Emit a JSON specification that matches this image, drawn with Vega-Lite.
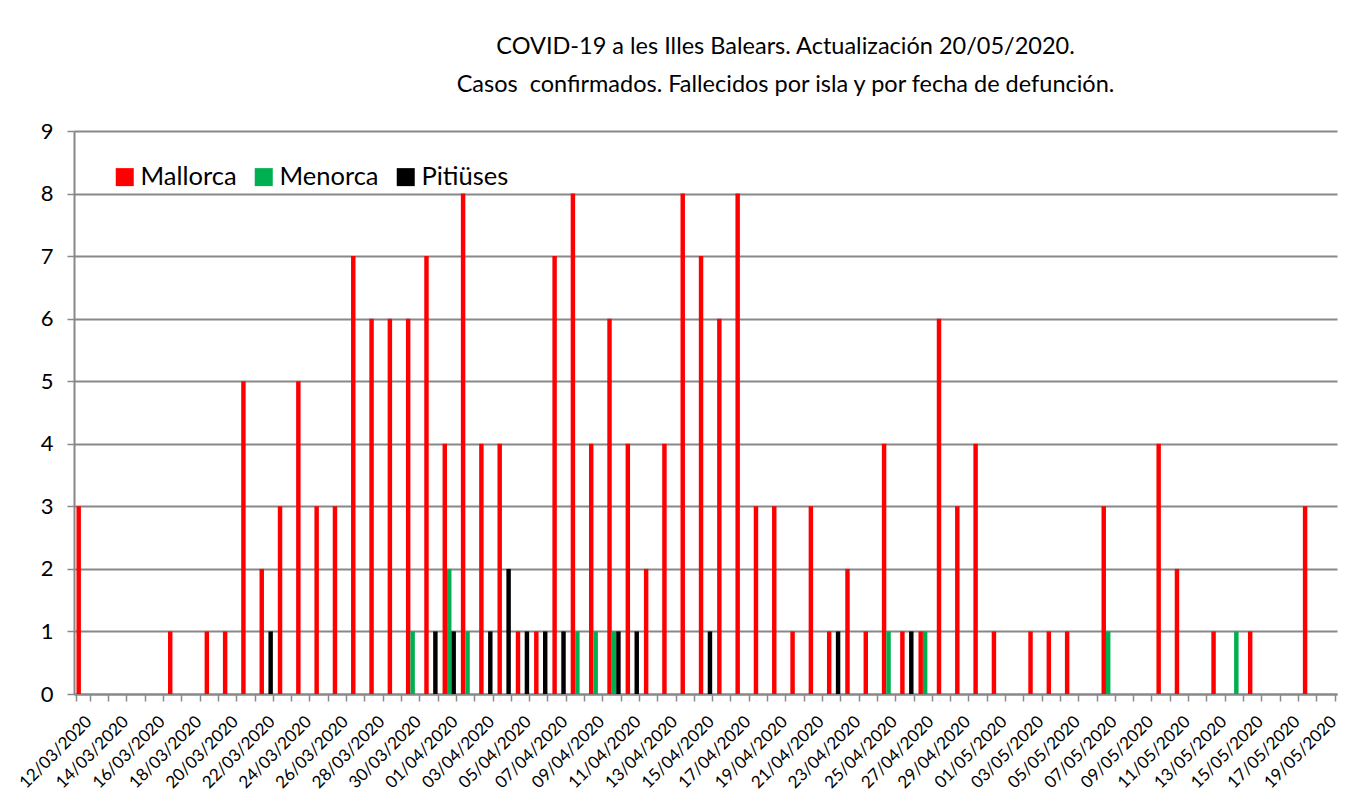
{
  "$schema": "https://vega.github.io/schema/vega-lite/v6.json",
  "width": 1263,
  "height": 563,
  "autosize": {"type": "none"},
  "padding": {"left": 74, "top": 131, "right": 23, "bottom": 109},
  "background": "white",
  "title": {
    "text": ["COVID-19 a les Illes Balears. Actualización 20/05/2020.", "Casos \u00a0confirmados. Fallecidos por isla y por fecha de defunción."],
    "anchor": "middle",
    "frame": "group",
    "dx": 80,
    "offset": 24,
    "fontSize": 23.5,
    "font": "Lato",
    "fontWeight": "normal",
    "color": "#000000",
    "lineHeight": 38
  },
  "data": {
    "values": [
      {"fecha": "12/03/2020", "isla": "Mallorca", "fallecidos": 3},
      {"fecha": "17/03/2020", "isla": "Mallorca", "fallecidos": 1},
      {"fecha": "19/03/2020", "isla": "Mallorca", "fallecidos": 1},
      {"fecha": "20/03/2020", "isla": "Mallorca", "fallecidos": 1},
      {"fecha": "21/03/2020", "isla": "Mallorca", "fallecidos": 5},
      {"fecha": "22/03/2020", "isla": "Mallorca", "fallecidos": 2},
      {"fecha": "23/03/2020", "isla": "Mallorca", "fallecidos": 3},
      {"fecha": "24/03/2020", "isla": "Mallorca", "fallecidos": 5},
      {"fecha": "25/03/2020", "isla": "Mallorca", "fallecidos": 3},
      {"fecha": "26/03/2020", "isla": "Mallorca", "fallecidos": 3},
      {"fecha": "27/03/2020", "isla": "Mallorca", "fallecidos": 7},
      {"fecha": "28/03/2020", "isla": "Mallorca", "fallecidos": 6},
      {"fecha": "29/03/2020", "isla": "Mallorca", "fallecidos": 6},
      {"fecha": "30/03/2020", "isla": "Mallorca", "fallecidos": 6},
      {"fecha": "31/03/2020", "isla": "Mallorca", "fallecidos": 7},
      {"fecha": "01/04/2020", "isla": "Mallorca", "fallecidos": 4},
      {"fecha": "02/04/2020", "isla": "Mallorca", "fallecidos": 8},
      {"fecha": "03/04/2020", "isla": "Mallorca", "fallecidos": 4},
      {"fecha": "04/04/2020", "isla": "Mallorca", "fallecidos": 4},
      {"fecha": "05/04/2020", "isla": "Mallorca", "fallecidos": 1},
      {"fecha": "06/04/2020", "isla": "Mallorca", "fallecidos": 1},
      {"fecha": "07/04/2020", "isla": "Mallorca", "fallecidos": 7},
      {"fecha": "08/04/2020", "isla": "Mallorca", "fallecidos": 8},
      {"fecha": "09/04/2020", "isla": "Mallorca", "fallecidos": 4},
      {"fecha": "10/04/2020", "isla": "Mallorca", "fallecidos": 6},
      {"fecha": "11/04/2020", "isla": "Mallorca", "fallecidos": 4},
      {"fecha": "12/04/2020", "isla": "Mallorca", "fallecidos": 2},
      {"fecha": "13/04/2020", "isla": "Mallorca", "fallecidos": 4},
      {"fecha": "14/04/2020", "isla": "Mallorca", "fallecidos": 8},
      {"fecha": "15/04/2020", "isla": "Mallorca", "fallecidos": 7},
      {"fecha": "16/04/2020", "isla": "Mallorca", "fallecidos": 6},
      {"fecha": "17/04/2020", "isla": "Mallorca", "fallecidos": 8},
      {"fecha": "18/04/2020", "isla": "Mallorca", "fallecidos": 3},
      {"fecha": "19/04/2020", "isla": "Mallorca", "fallecidos": 3},
      {"fecha": "20/04/2020", "isla": "Mallorca", "fallecidos": 1},
      {"fecha": "21/04/2020", "isla": "Mallorca", "fallecidos": 3},
      {"fecha": "22/04/2020", "isla": "Mallorca", "fallecidos": 1},
      {"fecha": "23/04/2020", "isla": "Mallorca", "fallecidos": 2},
      {"fecha": "24/04/2020", "isla": "Mallorca", "fallecidos": 1},
      {"fecha": "25/04/2020", "isla": "Mallorca", "fallecidos": 4},
      {"fecha": "26/04/2020", "isla": "Mallorca", "fallecidos": 1},
      {"fecha": "27/04/2020", "isla": "Mallorca", "fallecidos": 1},
      {"fecha": "28/04/2020", "isla": "Mallorca", "fallecidos": 6},
      {"fecha": "29/04/2020", "isla": "Mallorca", "fallecidos": 3},
      {"fecha": "30/04/2020", "isla": "Mallorca", "fallecidos": 4},
      {"fecha": "01/05/2020", "isla": "Mallorca", "fallecidos": 1},
      {"fecha": "03/05/2020", "isla": "Mallorca", "fallecidos": 1},
      {"fecha": "04/05/2020", "isla": "Mallorca", "fallecidos": 1},
      {"fecha": "05/05/2020", "isla": "Mallorca", "fallecidos": 1},
      {"fecha": "07/05/2020", "isla": "Mallorca", "fallecidos": 3},
      {"fecha": "10/05/2020", "isla": "Mallorca", "fallecidos": 4},
      {"fecha": "11/05/2020", "isla": "Mallorca", "fallecidos": 2},
      {"fecha": "13/05/2020", "isla": "Mallorca", "fallecidos": 1},
      {"fecha": "15/05/2020", "isla": "Mallorca", "fallecidos": 1},
      {"fecha": "18/05/2020", "isla": "Mallorca", "fallecidos": 3},
      {"fecha": "30/03/2020", "isla": "Menorca", "fallecidos": 1},
      {"fecha": "01/04/2020", "isla": "Menorca", "fallecidos": 2},
      {"fecha": "02/04/2020", "isla": "Menorca", "fallecidos": 1},
      {"fecha": "08/04/2020", "isla": "Menorca", "fallecidos": 1},
      {"fecha": "09/04/2020", "isla": "Menorca", "fallecidos": 1},
      {"fecha": "10/04/2020", "isla": "Menorca", "fallecidos": 1},
      {"fecha": "25/04/2020", "isla": "Menorca", "fallecidos": 1},
      {"fecha": "27/04/2020", "isla": "Menorca", "fallecidos": 1},
      {"fecha": "07/05/2020", "isla": "Menorca", "fallecidos": 1},
      {"fecha": "14/05/2020", "isla": "Menorca", "fallecidos": 1},
      {"fecha": "22/03/2020", "isla": "Pitiüses", "fallecidos": 1},
      {"fecha": "31/03/2020", "isla": "Pitiüses", "fallecidos": 1},
      {"fecha": "01/04/2020", "isla": "Pitiüses", "fallecidos": 1},
      {"fecha": "03/04/2020", "isla": "Pitiüses", "fallecidos": 1},
      {"fecha": "04/04/2020", "isla": "Pitiüses", "fallecidos": 2},
      {"fecha": "05/04/2020", "isla": "Pitiüses", "fallecidos": 1},
      {"fecha": "06/04/2020", "isla": "Pitiüses", "fallecidos": 1},
      {"fecha": "07/04/2020", "isla": "Pitiüses", "fallecidos": 1},
      {"fecha": "10/04/2020", "isla": "Pitiüses", "fallecidos": 1},
      {"fecha": "11/04/2020", "isla": "Pitiüses", "fallecidos": 1},
      {"fecha": "15/04/2020", "isla": "Pitiüses", "fallecidos": 1},
      {"fecha": "22/04/2020", "isla": "Pitiüses", "fallecidos": 1},
      {"fecha": "26/04/2020", "isla": "Pitiüses", "fallecidos": 1}
    ]
  },
  "mark": {"type": "bar"},
  "encoding": {
    "x": {
      "field": "fecha",
      "type": "nominal",
      "scale": {
        "domain": ["12/03/2020","13/03/2020","14/03/2020","15/03/2020","16/03/2020","17/03/2020","18/03/2020","19/03/2020","20/03/2020","21/03/2020","22/03/2020","23/03/2020","24/03/2020","25/03/2020","26/03/2020","27/03/2020","28/03/2020","29/03/2020","30/03/2020","31/03/2020",
                   "01/04/2020","02/04/2020","03/04/2020","04/04/2020","05/04/2020","06/04/2020","07/04/2020","08/04/2020","09/04/2020","10/04/2020","11/04/2020","12/04/2020","13/04/2020","14/04/2020","15/04/2020","16/04/2020","17/04/2020","18/04/2020","19/04/2020","20/04/2020","21/04/2020","22/04/2020","23/04/2020","24/04/2020","25/04/2020","26/04/2020","27/04/2020","28/04/2020","29/04/2020","30/04/2020",
                   "01/05/2020","02/05/2020","03/05/2020","04/05/2020","05/05/2020","06/05/2020","07/05/2020","08/05/2020","09/05/2020","10/05/2020","11/05/2020","12/05/2020","13/05/2020","14/05/2020","15/05/2020","16/05/2020","17/05/2020","18/05/2020","19/05/2020"],
        "paddingInner": 0.27,
        "paddingOuter": 0.135
      },
      "axis": {
        "title": null,
        "grid": false,
        "tickBand": "extent",
        "domainColor": "#888888",
        "domainWidth": 2,
        "tickColor": "#888888",
        "tickSize": 7,
        "tickWidth": 1.5,
        "labelAngle": -45,
        "labelAlign": "right",
        "labelBaseline": "top",
        "labelFontSize": 17,
        "labelFont": "Lato",
        "labelColor": "#000000",
        "labelPadding": 12,
        "labelOverlap": false,
        "labelBound": false,
        "labelExpr": "(substring(datum.value,3,5)=='03') == (toNumber(substring(datum.value,0,2))%2==0) ? datum.value : ''"
      }
    },
    "xOffset": {
      "field": "isla",
      "type": "nominal",
      "scale": {"domain": ["Mallorca", "Menorca", "Pitiüses"]}
    },
    "y": {
      "field": "fallecidos",
      "type": "quantitative",
      "scale": {"domain": [0, 9], "nice": false},
      "axis": {
        "title": null,
        "values": [0,1,2,3,4,5,6,7,8,9],
        "grid": true,
        "gridColor": "#888888",
        "gridWidth": 1.8,
        "domainColor": "#888888",
        "domainWidth": 2,
        "tickColor": "#888888",
        "tickSize": 7,
        "tickWidth": 1.5,
        "labelFontSize": 22,
        "labelFont": "Lato",
        "labelColor": "#000000",
        "labelPadding": 14
      }
    },
    "color": {
      "field": "isla",
      "type": "nominal",
      "scale": {"domain": ["Mallorca", "Menorca", "Pitiüses"], "range": ["#FF0000", "#00B050", "#000000"]},
      "legend": {
        "title": null,
        "orient": "none",
        "legendX": 38,
        "legendY": 33,
        "direction": "horizontal",
        "symbolType": "square",
        "symbolSize": 324,
        "symbolStrokeWidth": 0,
        "symbolOpacity": 1,
        "labelFontSize": 25.5,
        "labelFont": "Lato",
        "labelColor": "#000000",
        "labelOffset": 3,
        "columnPadding": 14,
        "padding": 0
      }
    }
  },
  "config": {
    "view": {"stroke": null},
    "bar": {"opacity": 1}
  }
}
